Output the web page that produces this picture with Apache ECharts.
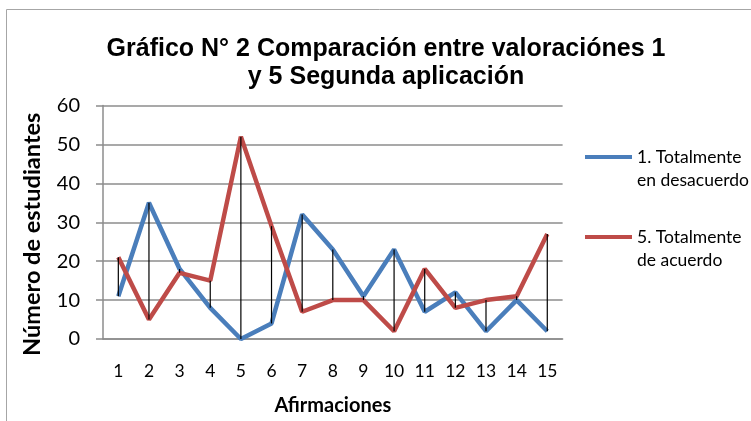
<!DOCTYPE html>
<html><head><meta charset="utf-8">
<script src="https://cdn.jsdelivr.net/npm/echarts@6/dist/echarts.min.js"></script>
<style>html,body{margin:0;padding:0;background:#fff}#c{width:751px;height:421px}</style>
</head><body><div id="c"></div>
<script>
const categories = ['1','2','3','4','5','6','7','8','9','10','11','12','13','14','15'];
const seriesNames = ['1. Totalmente\nen desacuerdo', '5. Totalmente\nde acuerdo'];
const desacuerdo = [11, 35, 18, 8, 0, 4, 32, 23, 11, 23, 7, 12, 2, 10, 2];
const acuerdo = [21, 5, 17, 15, 52, 29, 7, 10, 10, 2, 18, 8, 10, 11, 27];
const yTicks = [0, 10, 20, 30, 40, 50, 60];

const dropData = categories.map((c, i) => [i, desacuerdo[i], acuerdo[i]]);
const chart = echarts.init(document.getElementById('c'));
chart.setOption({
  animation: false,
  backgroundColor: '#fff',
  graphic: [{type:'rect', shape:{x:6.5, y:9.5, width:800, height:500}, style:{fill:'none', stroke:'#a6a6a6', lineWidth:1}, silent:true, z:-10}],
  title: {
    text: 'Gráfico N° 2 Comparación entre valoraciónes 1\ny 5 Segunda aplicación',
    left: 381, top: 30, textAlign: 'center',
    textStyle: {fontFamily: 'Liberation Sans', fontWeight: 'bold', fontSize: 25, lineHeight: 28, color: '#000'}
  },
  legend: {
    orient: 'vertical', left: 580, top: 157 - 34.5 - 5,
    itemWidth: 47, itemHeight: 4, itemGap: 11, icon: 'rect',
    data: seriesNames,
    formatter: function (n) { return ' \n' + n; },
    textStyle: {fontFamily: 'Lato', fontSize: 17.5, lineHeight: 23, color: '#000'}
  },
  grid: {left: 103, right: 751 - 562.6, top: 105.5, bottom: 421 - 341, containLabel: false},
  xAxis: {
    type: 'category', data: categories, boundaryGap: true,
    name: 'Afirmaciones', nameLocation: 'middle', nameGap: 57,
    nameTextStyle: {fontFamily: 'Lato', fontWeight: 'bold', fontSize: 20, color: '#000'},
    axisLine: {lineStyle: {color: '#8c8c8c', width: 1.5}},
    axisTick: {show: false},
    axisLabel: {margin: 23, fontFamily: 'Lato', fontSize: 17.5, color: '#000'}
  },
  yAxis: {
    type: 'value', min: yTicks[0], max: yTicks[yTicks.length - 1], interval: 10,
    name: 'Número de estudiantes', nameLocation: 'middle', nameGap: 59,
    nameTextStyle: {fontFamily: 'Lato', fontWeight: 'bold', fontSize: 23.5, color: '#000', padding: [0, 24, 0, 0]},
    axisLine: {show: true, lineStyle: {color: '#8c8c8c', width: 1.5}},
    axisTick: {show: true, length: 7, lineStyle: {color: '#8c8c8c', width: 1.5}},
    axisLabel: {margin: 23, fontFamily: 'Lato', fontSize: 20, color: '#000'},
    splitLine: {show: true, lineStyle: {color: '#8c8c8c', width: 1.5}}
  },
  series: [
    {
      type: 'custom', name: 'drop', data: dropData, z: 3, silent: true,
      renderItem: function (params, api) {
        const a = api.coord([api.value(0), api.value(1)]);
        const b = api.coord([api.value(0), api.value(2)]);
        return {type: 'line', shape: {x1: a[0], y1: a[1], x2: b[0], y2: b[1]}, style: {stroke: '#000', lineWidth: 1.2}};
      }
    },
    {type: 'line', name: seriesNames[0], data: desacuerdo, symbol: 'none', z: 2,
     lineStyle: {color: '#4a7ebb', width: 4.5}, itemStyle: {color: '#4a7ebb'}},
    {type: 'line', name: seriesNames[1], data: acuerdo, symbol: 'none', z: 2,
     lineStyle: {color: '#be4b48', width: 4.5}, itemStyle: {color: '#be4b48'}}
  ]
});
</script></body></html>
